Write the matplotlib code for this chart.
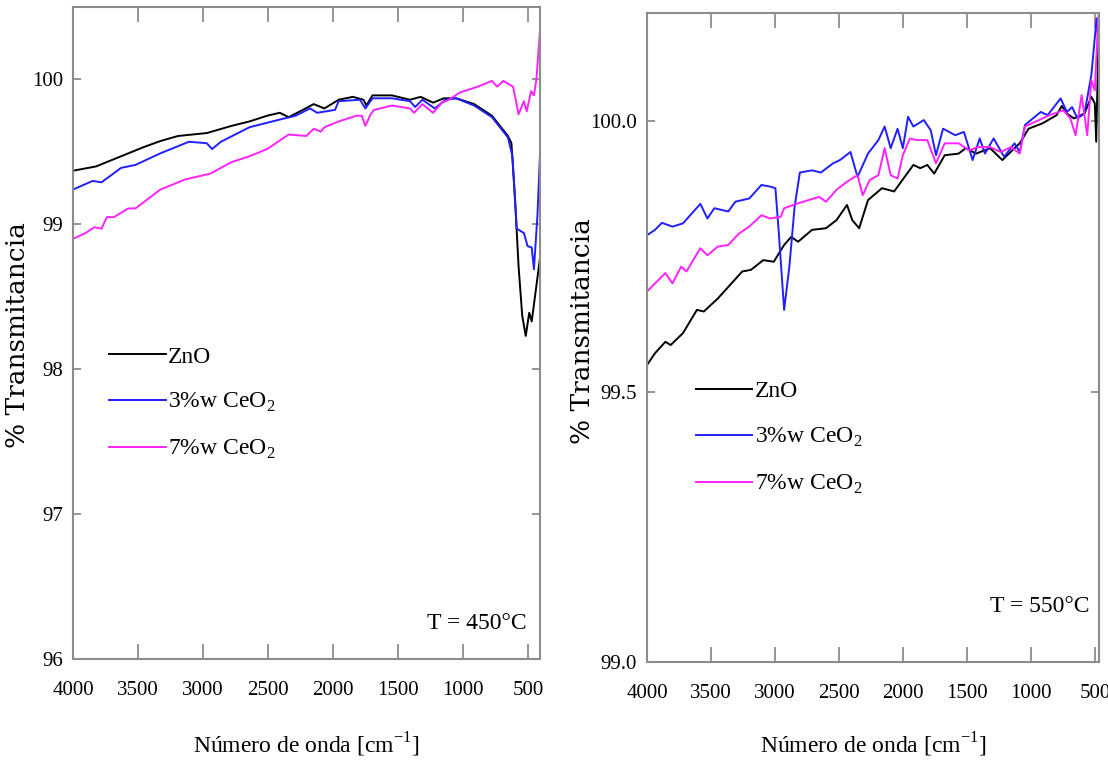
import matplotlib.pyplot as plt
from matplotlib.ticker import FixedLocator, FormatStrFormatter

# ---- datos 450 °C ----
w_zno_450 = [4000, 3822, 3740, 3575, 3466, 3329, 3192, 2972, 2780, 2644, 2507, 2411, 2342, 2233,
             2150, 2068, 1958, 1849, 1767, 1745, 1698, 1548, 1410, 1328, 1232, 1150, 1054, 917,
             780, 657, 630, 602, 575, 547, 520, 493, 474, 452, 410]
t_zno_450 = [99.37, 99.40, 99.43, 99.49, 99.53, 99.575, 99.61, 99.63, 99.68, 99.71, 99.75, 99.77,
             99.74, 99.79, 99.83, 99.80, 99.86, 99.88, 99.86, 99.82, 99.89, 99.89, 99.86, 99.88,
             99.84, 99.87, 99.87, 99.83, 99.75, 99.61, 99.56, 99.17, 98.71, 98.37, 98.23, 98.39,
             98.33, 98.48, 98.77]

w_ce3_450 = [4000, 3849, 3781, 3630, 3520, 3329, 3109, 2972, 2931, 2863, 2644, 2425, 2288, 2178,
             2123, 1986, 1958, 1794, 1753, 1698, 1548, 1410, 1370, 1315, 1219, 1137, 1054, 917,
             780, 657, 622, 589, 534, 506, 474, 457, 430, 410]
t_ce3_450 = [99.24, 99.30, 99.29, 99.39, 99.41, 99.49, 99.57, 99.56, 99.52, 99.57, 99.67, 99.72,
             99.75, 99.80, 99.77, 99.79, 99.85, 99.86, 99.80, 99.87, 99.87, 99.85, 99.81, 99.86,
             99.80, 99.86, 99.87, 99.82, 99.74, 99.60, 99.47, 98.97, 98.94, 98.85, 98.84, 98.69,
             99.06, 99.49]

w_ce7_450 = [4000, 3904, 3836, 3781, 3740, 3685, 3575, 3520, 3329, 3137, 2945, 2780, 2644, 2507,
             2342, 2205, 2150, 2095, 2068, 1958, 1821, 1780, 1753, 1712, 1685, 1548, 1410, 1378,
             1315, 1232, 1164, 1109, 1027, 890, 780, 739, 693, 617, 575, 534, 512, 479, 457, 438,
             410]
t_ce7_450 = [98.90, 98.94, 98.98, 98.97, 99.05, 99.05, 99.11, 99.11, 99.24, 99.31, 99.35, 99.43,
             99.47, 99.52, 99.62, 99.61, 99.66, 99.64, 99.67, 99.71, 99.75, 99.75, 99.68, 99.76,
             99.79, 99.82, 99.80, 99.77, 99.83, 99.77, 99.84, 99.86, 99.91, 99.95, 99.99, 99.95,
             99.99, 99.95, 99.76, 99.85, 99.78, 99.92, 99.89, 100.0, 100.34]

# ---- datos 550 °C ----
w_zno_550 = [4000, 3937, 3856, 3815, 3719, 3610, 3556, 3447, 3256, 3188, 3092, 3010, 2929, 2874,
             2820, 2711, 2602, 2520, 2438, 2397, 2343, 2274, 2165, 2070, 2015, 1920, 1866, 1811,
             1757, 1675, 1566, 1511, 1430, 1320, 1225, 1130, 1089, 1020, 911, 802, 761, 721, 666,
             584, 530, 503, 492, 470]
t_zno_550 = [99.549, 99.571, 99.592, 99.586, 99.608, 99.651, 99.648, 99.672, 99.722, 99.725,
             99.743, 99.740, 99.771, 99.786, 99.777, 99.799, 99.802, 99.817, 99.845, 99.817,
             99.802, 99.854, 99.876, 99.870, 99.888, 99.919, 99.913, 99.919, 99.903, 99.937,
             99.940, 99.950, 99.940, 99.950, 99.928, 99.950, 99.959, 99.986, 99.996, 100.011,
             100.028, 100.014, 100.005, 100.014, 100.045, 100.033, 99.962, 100.20]

w_ce3_550 = [4000, 3937, 3883, 3801, 3719, 3583, 3528, 3474, 3365, 3310, 3201, 3106, 3038, 2997,
             2970, 2929, 2888, 2847, 2806, 2711, 2642, 2547, 2493, 2411, 2356, 2274, 2193, 2144,
             2097, 2043, 2002, 1961, 1920, 1838, 1784, 1743, 1688, 1593, 1525, 1457, 1402, 1361,
             1293, 1211, 1130, 1089, 1048, 925, 871, 770, 721, 680, 639, 584, 530, 489, 470]
t_ce3_550 = [99.789, 99.799, 99.812, 99.805, 99.811, 99.847, 99.820, 99.839, 99.833, 99.851,
             99.857, 99.882, 99.879, 99.876, 99.792, 99.651, 99.731, 99.842, 99.905, 99.909,
             99.905, 99.922, 99.928, 99.943, 99.897, 99.940, 99.965, 99.990, 99.950, 99.986,
             99.950, 100.008, 99.990, 100.002, 99.983, 99.937, 99.986, 99.974, 99.980, 99.928,
             99.968, 99.940, 99.968, 99.934, 99.959, 99.943, 99.993, 100.017, 100.011, 100.042,
             100.017, 100.026, 100.005, 100.014, 100.085, 100.19, 100.13]

w_ce7_550 = [4000, 3937, 3856, 3801, 3733, 3692, 3583, 3528, 3447, 3365, 3283, 3201, 3106, 3038,
             2956, 2929, 2820, 2738, 2656, 2602, 2520, 2438, 2356, 2315, 2261, 2193, 2144, 2097,
             2043, 2002, 1947, 1893, 1811, 1743, 1675, 1566, 1484, 1416, 1320, 1238, 1157, 1089,
             1048, 939, 857, 748, 694, 653, 606, 562, 530, 503, 476, 470]
t_ce7_550 = [99.685, 99.700, 99.719, 99.700, 99.731, 99.722, 99.765, 99.752, 99.768, 99.771,
             99.792, 99.805, 99.826, 99.820, 99.823, 99.839, 99.848, 99.854, 99.860, 99.851,
             99.873, 99.888, 99.900, 99.863, 99.891, 99.900, 99.950, 99.900, 99.894, 99.937,
             99.968, 99.965, 99.965, 99.922, 99.959, 99.959, 99.946, 99.952, 99.952, 99.943,
             99.952, 99.940, 99.990, 100.002, 100.011, 100.020, 100.005, 99.974, 100.048, 99.974,
             100.076, 100.057, 100.19, 100.20]

etiquetas = ['ZnO', '3%w CeO$_\\mathregular{2}$', '7%w CeO$_\\mathregular{2}$']
colores = ['black', '#1f1fff', '#ff22ff']
x_ticks = [4000, 3500, 3000, 2500, 2000, 1500, 1000, 500]

plt.rcParams['font.family'] = ['Liberation Serif', 'DejaVu Serif']
plt.rcParams['mathtext.fontset'] = 'custom'
plt.rcParams['mathtext.rm'] = 'Liberation Serif'

fig = plt.figure(figsize=(11.08, 7.63), dpi=100)
ax1 = fig.add_axes([0.0659, 0.1363, 0.4215, 0.8545])
ax2 = fig.add_axes([0.5839, 0.1324, 0.4080, 0.8506])

paneles = [
    (ax1, [(w_zno_450, t_zno_450), (w_ce3_450, t_ce3_450), (w_ce7_450, t_ce7_450)],
     (4000, 410), (96, 100.5), [96, 97, 98, 99, 100], '%d', 'T = 450°C', (0.972, 0.055),
     (0.077, 0.48), (-0.118, 0.497), -0.132),
    (ax2, [(w_zno_550, t_zno_550), (w_ce3_550, t_ce3_550), (w_ce7_550, t_ce7_550)],
     (4000, 470), (99.0, 100.2), [99.0, 99.5, 100.0], '%.1f', 'T = 550°C', (0.978, 0.085),
     (0.108, 0.433), (-0.142, 0.51), -0.128),
]

for ax, series, xl, yl, yt, fmt, temp, tpos, lpos, ylc, xly in paneles:
    for (w, t), lab, c in zip(series, etiquetas, colores):
        ax.plot(w, t, color=c, lw=1.4, label=lab)
    ax.set_xlim(*xl)
    ax.set_ylim(*yl)
    ax.xaxis.set_major_locator(FixedLocator(x_ticks))
    ax.yaxis.set_major_locator(FixedLocator(yt))
    ax.yaxis.set_major_formatter(FormatStrFormatter(fmt))
    ax.tick_params(axis='x', direction='in', length=11, width=1.3, color='#8c8c8c',
                   top=True, labelsize=15, pad=16)
    ax.tick_params(axis='y', direction='in', length=6, width=1.3, color='#8c8c8c',
                   right=True, labelsize=15, pad=7)
    for s in ax.spines.values():
        s.set_color('#8c8c8c')
        s.set_linewidth(1.5)
    ax.set_xlabel('Número de onda [cm$^\\mathregular{-1}$]', fontsize=17)
    ax.xaxis.set_label_coords(0.5, xly)
    ax.xaxis.label.set_va('center')
    ax.set_ylabel('% Transmitancia', fontsize=19, family='DejaVu Serif')
    ax.yaxis.set_label_coords(*ylc)
    ax.yaxis.label.set_va('center')
    ax.text(tpos[0], tpos[1], temp, transform=ax.transAxes, ha='right', va='center', fontsize=17)
    ax.legend(loc='upper left', bbox_to_anchor=lpos, frameon=False, fontsize=17,
              handlelength=2.4, handletextpad=0.1, labelspacing=1.0, borderpad=0,
              borderaxespad=0)

fig.savefig('out.png', dpi=100)
